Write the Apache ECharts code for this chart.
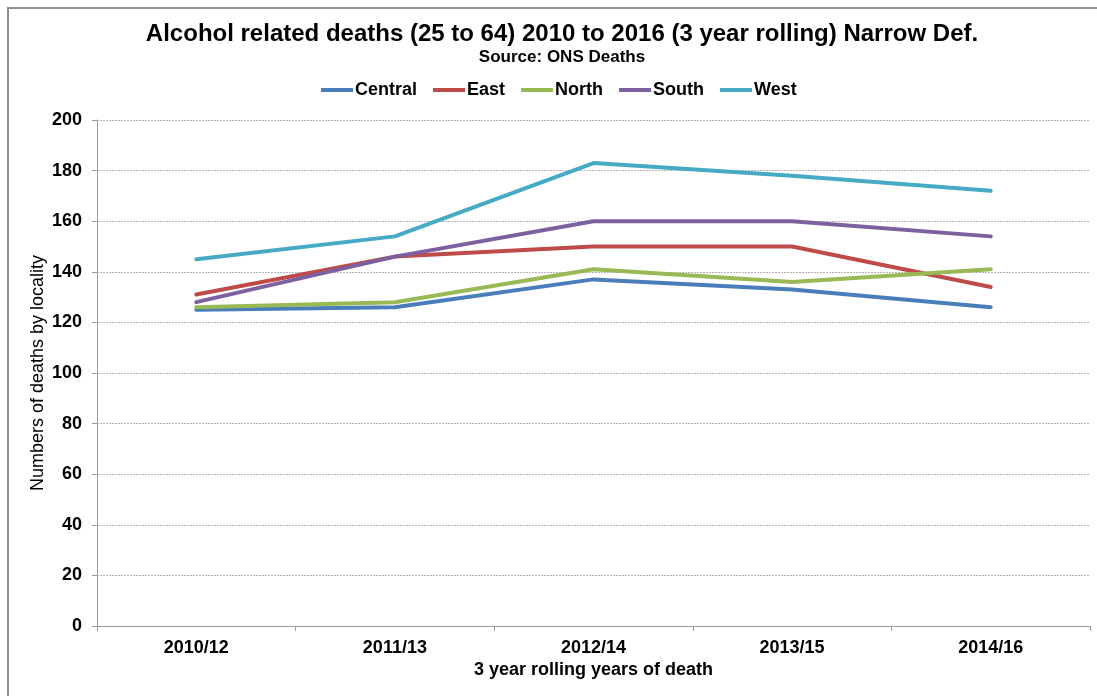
<!DOCTYPE html>
<html>
<head>
<meta charset="utf-8">
<title>Alcohol related deaths</title>
<script src="https://cdn.jsdelivr.net/npm/echarts@6/dist/echarts.min.js"></script>
<style>
	html, body { margin: 0; padding: 0; background: #fff; }
	#main { width: 1097px; height: 696px; }
</style>
</head>
<body>
<div id="main"></div>
<script>
	// rolling 3 year periods
	var categories = ['2010/12', '2011/13', '2012/14', '2013/15', '2014/16'];
	var localities = ['Central', 'East', 'North', 'South', 'West'];
	var central = [125, 126, 137, 133, 126];
	var east = [131, 146, 150, 150, 134];
	var north = [126, 128, 141, 136, 141];
	var south = [128, 146, 160, 160, 154];
	var west = [145, 154, 183, 178, 172];
	var colors = ['#4A7EBB', '#BE4B48', '#98B954', '#7D60A0', '#46AAC5'];

	var font = "'Liberation Sans', Arial, sans-serif";
	var allData = [central, east, north, south, west];

	var series = [];
	for (var i = 0; i < localities.length; i++) {
		series.push({
			name: localities[i],
			type: 'line',
			data: allData[i],
			symbol: 'none',
			smooth: false,
			lineStyle: { width: 4, cap: 'round', join: 'round' }
		});
	}

	var chart = echarts.init(document.getElementById('main'), null, { renderer: 'canvas' });
	chart.setOption({
		animation: false,
		color: colors,
		textStyle: { fontFamily: font },
		graphic: [{
			type: 'rect',
			z: -10,
			shape: { x: 8, y: 8, width: 1200, height: 800 },
			style: { fill: 'none', stroke: '#8c8c8c', lineWidth: 2 }
		}],
		title: [{
			text: 'Alcohol related deaths (25 to 64) 2010 to 2016 (3 year rolling) Narrow Def.',
			left: 557,
			textAlign: 'center',
			top: 17,
			textStyle: { fontFamily: font, fontSize: 24, fontWeight: 'bold', color: '#000' }
		}, {
			text: 'Source: ONS Deaths',
			left: 557,
			textAlign: 'center',
			top: 44,
			textStyle: { fontFamily: font, fontSize: 17, fontWeight: 'bold', color: '#000' }
		}],
		legend: {
			data: localities,
			top: 76,
			left: 316,
			icon: 'rect',
			itemWidth: 32,
			itemHeight: 4,
			itemGap: 16,
			textStyle: { fontFamily: font, fontSize: 18, fontWeight: 'bold', color: '#000', padding: [0, 0, 0, -3] }
		},
		grid: { left: 97, right: 7, top: 120, bottom: 70, containLabel: false },
		xAxis: {
			type: 'category',
			data: categories,
			boundaryGap: true,
			name: '3 year rolling years of death',
			nameLocation: 'middle',
			nameGap: 35,
			nameMoveOverlap: false,
			nameTextStyle: { fontFamily: font, fontSize: 18, fontWeight: 'bold', color: '#000' },
			axisLine: { lineStyle: { color: '#9a9a9a', width: 1 } },
			axisTick: { show: true, interval: 0, length: 5, lineStyle: { color: '#9a9a9a' } },
			axisLabel: { margin: 13, fontSize: 18, fontWeight: 'bold', color: '#000' }
		},
		yAxis: {
			type: 'value',
			min: 0,
			max: 200,
			interval: 20,
			name: 'Numbers of deaths by locality',
			nameLocation: 'middle',
			nameGap: 50,
			nameMoveOverlap: false,
			nameTextStyle: { fontFamily: font, fontSize: 18, color: '#000' },
			axisLine: { show: true, lineStyle: { color: '#9a9a9a', width: 1 } },
			axisTick: { show: true, length: 5, lineStyle: { color: '#9a9a9a' } },
			axisLabel: { margin: 15, fontSize: 18, fontWeight: 'bold', color: '#000' },
			splitLine: { show: true, lineStyle: { color: '#b4b4b4', type: [2, 1], width: 1 } }
		},
		series: series
	});
</script>
</body>
</html>
